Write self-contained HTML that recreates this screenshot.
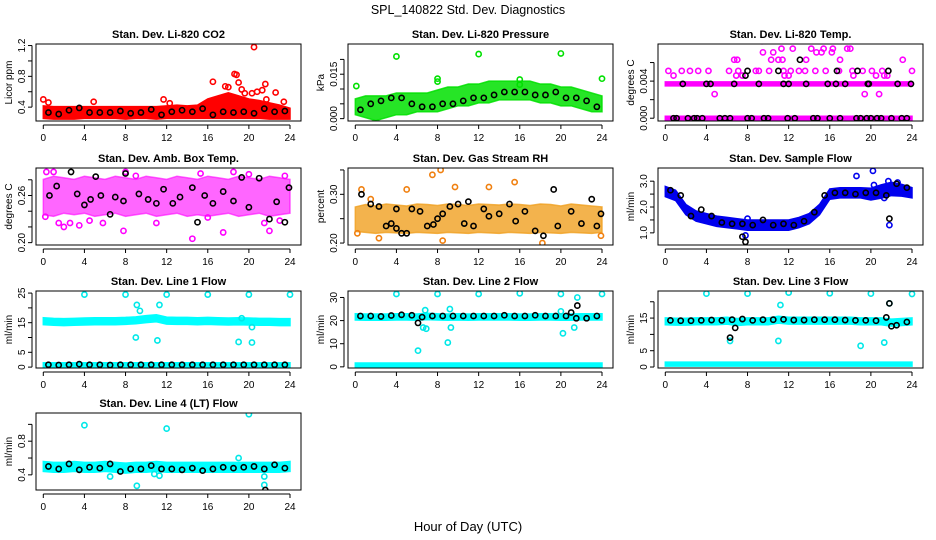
<!DOCTYPE html>
<html><head><meta charset="utf-8"><style>
html,body{margin:0;padding:0;background:#fff;}
svg{display:block;font-family:"Liberation Sans",sans-serif;}
</style></head><body>
<svg id="chart" width="936" height="540" viewBox="0 0 936 540">
<text x="468" y="14" text-anchor="middle" font-size="12.5">SPL_140822  Std. Dev. Diagnostics</text>
<text x="468" y="531" text-anchor="middle" font-size="13">Hour of Day (UTC)</text>
</svg>
<script>
// ---- data ----
const bandHours = [0,1,2,3,4,5,6,7,8,9,10,11,12,13,14,15,16,17,18,19,20,21,22,23,24];
const xTicks = [0,4,8,12,16,20,24];
const blackHours = [0.5,1.5,2.5,3.5,4.5,5.5,6.5,7.5,8.5,9.5,10.5,11.5,12.5,13.5,14.5,15.5,16.5,17.5,18.5,19.5,20.5,21.5,22.5,23.5];

// P1 CO2
const co2Lo = [0.28,0.27,0.27,0.27,0.28,0.28,0.28,0.28,0.27,0.28,0.28,0.27,0.28,0.28,0.28,0.28,0.28,0.28,0.28,0.28,0.28,0.28,0.27,0.27,0.27];
const co2Hi = [0.39,0.38,0.38,0.38,0.38,0.38,0.38,0.38,0.38,0.38,0.38,0.38,0.39,0.40,0.39,0.40,0.48,0.52,0.56,0.52,0.48,0.46,0.43,0.40,0.36];
const co2Black = [0.33,0.31,0.36,0.39,0.33,0.33,0.33,0.35,0.32,0.33,0.37,0.30,0.34,0.36,0.34,0.38,0.30,0.34,0.33,0.34,0.32,0.38,0.34,0.35];
const co2OutX = [0,0.5,4.9,11.7,12.3,16.5,17.7,18,18.6,18.8,19,19.3,19.6,20.3,20.5,20.8,21.3,21.6,21.7,22.6,23.4];
const co2OutY = [0.50,0.46,0.47,0.50,0.45,0.73,0.67,0.66,0.83,0.82,0.72,0.63,0.58,0.58,1.18,0.60,0.62,0.70,0.50,0.59,0.47];

// P2 Pressure
const presLo = [0.002,0.001,0.000,0.001,0.002,0.002,0.003,0.003,0.003,0.004,0.005,0.005,0.006,0.006,0.007,0.007,0.007,0.007,0.006,0.006,0.005,0.005,0.004,0.003,0.003];
const presHi = [0.006,0.007,0.007,0.007,0.008,0.008,0.008,0.008,0.009,0.010,0.010,0.011,0.011,0.012,0.012,0.012,0.012,0.012,0.011,0.011,0.010,0.010,0.009,0.008,0.007];
const presBlack = [0.003,0.005,0.006,0.007,0.007,0.005,0.004,0.004,0.005,0.005,0.006,0.007,0.007,0.008,0.009,0.009,0.009,0.008,0.008,0.009,0.007,0.007,0.006,0.004];
const presOutX = [0.1,4,8,8,12,16,16,20,24];
const presOutY = [0.011,0.021,0.0135,0.0125,0.0218,0.0132,0.0115,0.022,0.0135];

// P3 Li-820 Temp
const tempLo = [0,0,0,0,0,0,0,0,0,0,0,0,0,0,0,0,0,0,0,0,0,0,0,0,0];
const tempLo2 = [0.0037,0.0037,0.0037,0.0037,0.0037,0.0037,0.0037,0.0037,0.0037,0.0037,0.0037,0.0037,0.0037,0.0037,0.0037,0.0037,0.0037,0.0037,0.0037,0.0037,0.0037,0.0037,0.0037,0.0037,0.0037];
const tempOutX = [0.3,1.6,2.4,3.2,4.2,6.2,7.1,8.8,9.1,10.1,11.5,12.2,13,13.6,14.6,15.6,16.9,18.2,19.2,20.1,21.1,24.0,6.7,7,10.3,11,11.4,13.7,17,23.1,9.5,10.5,14.7,15.2,16.2,11.3,12.4,14.2,15.4,16.3,17.7,18,0.8,6.9,7.5,11.6,12,18.3,20.5,21.3,21.6,9.4,4.8,19.4,20.8];
const tempOutY = [0.0051,0.0051,0.0051,0.0051,0.0051,0.0051,0.0051,0.0051,0.0051,0.0051,0.0051,0.0051,0.0051,0.0051,0.0051,0.0051,0.0051,0.0051,0.0051,0.0051,0.0051,0.0051,0.0063,0.0063,0.0063,0.0063,0.0063,0.0063,0.0063,0.0063,0.0071,0.0071,0.0071,0.0071,0.0071,0.0075,0.0075,0.0075,0.0075,0.0075,0.0075,0.0075,0.0046,0.0046,0.0046,0.0046,0.0046,0.0046,0.0046,0.0046,0.0046,0.0083,0.0026,0.0026,0.0026];
const tempBlackX = [1.7,4,4.4,6.7,9.1,11.5,12,13.7,15.8,16.6,17.5,19.7,19.8,22.6,23.9,0.8,1.1,2.2,2.8,3.1,3.6,5.3,5.8,6.3,8,8.4,9.6,10,11.9,12.6,14.4,14.8,16,17,18.6,19,19.6,20,20.6,21,22,23,23.5,8,11,16.7,18.7,21.7,7.8,13.1];
const tempBlackY = [0.0037,0.0037,0.0037,0.0037,0.0037,0.0037,0.0037,0.0037,0.0037,0.0037,0.0037,0.0037,0.0037,0.0037,0.0037,0,0,0,0,0,0,0,0,0,0,0,0,0,0,0,0,0,0,0,0,0,0,0,0,0,0,0,0,0.0051,0.0051,0.0051,0.0051,0.0051,0.0046,0.0063];

// P4 Amb Box Temp
const ambLo = [0.238,0.236,0.240,0.238,0.240,0.236,0.238,0.240,0.236,0.238,0.240,0.236,0.238,0.240,0.236,0.238,0.236,0.238,0.240,0.236,0.238,0.240,0.236,0.238,0.240];
const ambHi = [0.278,0.282,0.280,0.278,0.282,0.280,0.278,0.282,0.280,0.278,0.282,0.280,0.278,0.282,0.280,0.278,0.282,0.280,0.278,0.282,0.280,0.278,0.282,0.280,0.278];
const ambOutX = [0.2,0.3,1,1.5,2,2.6,3.5,4.5,5.8,7.8,8,9,11,14.5,15.3,16,17.5,18.5,20,21.5,22,23,23.5];
const ambOutY = [0.233,0.29,0.29,0.225,0.22,0.225,0.222,0.228,0.225,0.215,0.29,0.285,0.225,0.205,0.288,0.232,0.213,0.29,0.287,0.225,0.215,0.228,0.285];
const ambBlackX = [0.6,1.3,2.7,3.3,4,4.6,5.1,5.6,6.5,7,7.8,8,9.3,10.2,11,11.7,12.6,13.3,14.5,15,15.7,16.5,17.5,18.5,19.3,20,21,22,22.7,23.5,23.9];
const ambBlackY = [0.26,0.272,0.29,0.262,0.248,0.255,0.284,0.26,0.236,0.258,0.253,0.288,0.262,0.255,0.25,0.268,0.25,0.258,0.27,0.226,0.26,0.25,0.265,0.253,0.283,0.245,0.282,0.23,0.252,0.226,0.27];

// P5 Gas Stream RH
const rhLo = [0.228,0.226,0.224,0.226,0.225,0.224,0.226,0.225,0.224,0.226,0.225,0.224,0.226,0.225,0.224,0.226,0.225,0.224,0.226,0.225,0.224,0.226,0.225,0.224,0.226];
const rhHi = [0.270,0.275,0.272,0.276,0.274,0.272,0.276,0.275,0.273,0.276,0.275,0.273,0.276,0.275,0.274,0.276,0.275,0.273,0.276,0.275,0.272,0.276,0.274,0.272,0.270];
const rhOutX = [0.6,1.5,5,7.5,8.3,9.7,13,15.5,18.2,2.3,8.5,0.2,23.9];
const rhOutY = [0.31,0.29,0.31,0.34,0.35,0.315,0.315,0.325,0.20,0.21,0.205,0.22,0.215];
const rhBlackX = [0.6,1.5,2.3,3,3.5,4,4,4.5,5,5.5,6.3,7,7.6,8,8.5,9.2,10,10.6,11,11.5,12.5,13,14,15,15.6,16.5,17.5,18.3,19.3,19.7,21,22,23,23.5,23.9];
const rhBlackY = [0.30,0.28,0.275,0.235,0.24,0.27,0.23,0.22,0.22,0.27,0.265,0.235,0.238,0.25,0.26,0.275,0.28,0.24,0.285,0.235,0.27,0.255,0.26,0.28,0.245,0.265,0.225,0.215,0.31,0.235,0.265,0.24,0.29,0.235,0.26];

// P6 Sample Flow
const flowMid = [2.6,2.45,1.9,1.65,1.55,1.45,1.4,1.35,1.3,1.3,1.3,1.3,1.3,1.4,1.55,1.9,2.5,2.55,2.55,2.55,2.5,2.6,2.7,2.65,2.55];
const flowSpread = [0.12,0.12,0.12,0.12,0.12,0.12,0.12,0.12,0.12,0.12,0.12,0.12,0.12,0.12,0.12,0.12,0.12,0.12,0.12,0.12,0.15,0.18,0.18,0.15,0.12];
const flowBlack = [2.65,2.45,1.65,1.9,1.65,1.4,1.35,1.35,1.3,1.5,1.3,1.35,1.3,1.45,1.8,2.45,2.55,2.55,2.5,2.55,2.55,2.45,2.9,2.75];
const flowOutX = [18.6,20.2,21.7,22.6,7.8,8,21.8,20.3,21.3];
const flowOutY = [3.2,3.4,3.0,2.95,0.9,1.55,1.3,2.85,2.35];
const flowBlackOutX = [7.5,7.8,21.8];
const flowBlackOutY = [0.85,0.65,1.55];

// P7 Line 1 Flow
const l1Mid = [15.5,15.3,15.2,15.3,15.4,15.5,15.5,15.5,15.6,15.8,16.2,16.5,15.7,15.6,15.6,15.5,15.6,15.5,15.4,15.5,15.4,15.3,15.3,15.2,15.2];
const l1Low = [0.8,0.8,0.8,0.8,0.8,0.8,0.8,0.8,0.8,0.8,0.8,0.8,0.8,0.8,0.8,0.8,0.8,0.8,0.8,0.8,0.8,0.8,0.8,0.8,0.8];
const l1Black = [0.8,0.7,0.8,1.0,0.8,0.8,0.7,0.8,0.8,0.8,0.8,0.8,0.8,0.8,0.8,0.8,0.8,0.8,0.8,0.8,0.8,0.8,0.8,0.8];
const l1OutX = [4,8,12,16,20,24,9.1,9.4,9,11.1,11.3,19,20.3,20.3,19.3];
const l1OutY = [24.5,24.5,24.5,24.5,24.5,24.5,21,19,10,9,21,8.5,8.3,13.5,16.5];

// P8 Line 2 Flow
const l2Mid = [21.6,21.5,21.5,21.5,21.6,21.6,21.5,21.8,21.6,21.5,21.6,21.5,21.6,21.6,21.6,21.6,21.5,21.5,21.6,21.6,21.5,21.5,21.6,21.6,21.6];
const l2Low = [0.8,0.8,0.8,0.8,0.8,0.8,0.8,0.8,0.8,0.8,0.8,0.8,0.8,0.8,0.8,0.8,0.8,0.8,0.8,0.8,0.8,0.8,0.8,0.8,0.8];
const l2Black = [22,22,21.8,22.2,22.5,22.3,21.5,22,22,22,22,22,22,22,22.3,22,22,22.3,22,22,22,21,21,22];
const l2OutX = [4,8,12,16,20,24,6.1,6.6,6.9,9,9.3,9.2,6.8,20.2,21.3,21.6,20];
const l2OutY = [31.5,31.5,31.5,31.8,31.5,31.5,7,17,16.5,10.5,17,25,24.5,14.5,17,30,24];
const l2BlackOutX = [6.1,21,21.6];
const l2BlackOutY = [19,23.5,26.5];

// P9 Line 3 Flow
const l3Mid = [14,13.9,13.9,14,14,14,14.2,13.8,14,14,14,14.5,14.2,14.2,14.2,14.2,14.2,14.2,14.2,14,14,14,13.6,13.8,14];
const l3Low = [0.9,0.9,0.9,0.9,0.9,0.9,0.9,0.9,0.9,0.9,0.9,0.9,0.9,0.9,0.9,0.9,0.9,0.9,0.9,0.9,0.9,0.9,0.9,0.9,0.9];
const l3Black = [14.3,14.2,14.2,14.3,14.4,14.3,14.5,14.7,14.3,14.5,14.5,14.6,14.4,14.4,14.5,14.5,14.5,14.4,14.3,14.3,14.2,15.2,12.8,13.8];
const l3OutX = [4,8,12,16,20,24,11.2,11,6.3,19,21.3,21.8];
const l3OutY = [22.5,22.5,22.8,22.6,22.5,22.4,19,8,8,6.5,7.5,19.5];
const l3BlackOutX = [6.3,6.8,22,21.8];
const l3BlackOutY = [9,12,12.5,19.5];

// P10 Line 4 (LT) Flow
const l4Mid = [0.50,0.49,0.49,0.50,0.49,0.49,0.50,0.49,0.48,0.49,0.49,0.50,0.49,0.49,0.49,0.49,0.49,0.49,0.49,0.49,0.49,0.49,0.49,0.49,0.50];
const l4Spread = [0.035,0.035,0.035,0.035,0.035,0.035,0.035,0.035,0.035,0.035,0.035,0.035,0.035,0.035,0.035,0.035,0.035,0.035,0.035,0.035,0.035,0.035,0.035,0.035,0.035];
const l4Black = [0.50,0.47,0.53,0.46,0.49,0.48,0.53,0.44,0.47,0.47,0.51,0.47,0.47,0.46,0.48,0.45,0.47,0.49,0.48,0.49,0.50,0.47,0.52,0.48];
const l4OutX = [4,12,20,9.1,6.5,21.5,21.5,19,11.3,10.8];
const l4OutY = [0.99,0.95,1.12,0.27,0.38,0.28,0.38,0.60,0.39,0.41];
const l4BlackOutX = [21.6];
const l4BlackOutY = [0.22];

// ---- drawing ----
const NS = 'http://www.w3.org/2000/svg';
const svg = document.getElementById('chart');
function mk(tag, attrs, parent){
  const e = document.createElementNS(NS, tag);
  for (const k in attrs) e.setAttribute(k, attrs[k]);
  (parent||svg).appendChild(e);
  return e;
}
const colX = [36, 348, 658];
const rowY = [44, 168, 291, 413];
const W = 265, H = 77;

function makePanel(col, row, ymin, ymax, ticks, labels, title, ylab, name){
  const L = colX[col], T = rowY[row];
  const g = mk('g', {});
  
  
  const x0 = L + 7.3, x24 = L + 254;
  const xs = h => x0 + (x24 - x0) * h / 24;
  const ys = v => T + H - (v - ymin) / (ymax - ymin) * H;
  const clip = mk('clipPath', {id: 'clip-' + name}, g);
  mk('rect', {x: L, y: T, width: W, height: H}, clip);
  const plot = mk('g', {'clip-path': 'url(#clip-' + name + ')'}, g);
  
  
  const t = mk('text', {x: L + W/2, y: T - 6, 'text-anchor': 'middle', 'font-size': 11, 'font-weight': 'bold'}, g);
  t.textContent = title;
  
  
  const yl = mk('text', {x: 0, y: 0, 'text-anchor': 'middle', 'font-size': 10, transform: 'translate(' + (L - 24) + ',' + (T + H/2) + ') rotate(-90)'}, g);
  yl.textContent = ylab;
  
  
  const box = mk('rect', {x: L, y: T, width: W, height: H, fill: 'none', stroke: '#000', 'stroke-width': 1}, g);
  
  
  const xa = mk('g', {}, g);
  
  
  mk('line', {x1: xs(0), x2: xs(24), y1: T + H + 4, y2: T + H + 4, stroke: '#000'}, xa);
  xTicks.forEach(h => {
    mk('line', {x1: xs(h), x2: xs(h), y1: T + H + 4, y2: T + H + 8, stroke: '#000'}, xa);
    const tl = mk('text', {x: xs(h), y: T + H + 20, 'text-anchor': 'middle', 'font-size': 10}, xa);
    tl.textContent = h;
    
    
  });
  const ya = mk('g', {}, g);
  
  
  mk('line', {x1: L - 4, x2: L - 4, y1: ys(ticks[0]), y2: ys(ticks[ticks.length-1]), stroke: '#000'}, ya);
  ticks.forEach((v, i) => {
    mk('line', {x1: L - 8, x2: L - 4, y1: ys(v), y2: ys(v), stroke: '#000'}, ya);
    if (labels[i] !== '') {
      const tl = mk('text', {x: 0, y: 0, 'text-anchor': 'middle', 'font-size': 10, transform: 'translate(' + (L - 11) + ',' + ys(v) + ') rotate(-90)'}, ya);
      tl.textContent = labels[i];
      
      
    }
  });
  return {plot, xs, ys, name};
}

function band(p, lo, hi, color, op){
  let d = '';
  bandHours.forEach((h, i) => { d += (i ? 'L' : 'M') + p.xs(h) + ',' + (p.ys(hi[i]) - 2); });
  for (let i = bandHours.length - 1; i >= 0; i--) d += 'L' + p.xs(bandHours[i]) + ',' + (p.ys(lo[i]) + 2);
  const e = mk('path', {d: d + 'Z', fill: color, 'fill-opacity': op || 1, stroke: color, 'stroke-opacity': op || 1, 'stroke-width': 1.5}, p.plot);
  
  
}
function bandMid(p, mid, spread, color){
  band(p, mid.map((m, i) => m - spread[i]), mid.map((m, i) => m + spread[i]), color);
}
function bandConst(p, mid, color){ band(p, mid, mid, color); }
function pts(p, xsArr, ysArr, color, label){
  xsArr.forEach((h, i) => {
    const c = mk('circle', {cx: p.xs(h), cy: p.ys(ysArr[i]), r: 2.6, fill: 'none', stroke: color, 'stroke-width': 1.6}, p.plot);
    
    
  });
}

let p;
p = makePanel(0, 0, 0.22, 1.22, [0.4,0.6,0.8,1.0,1.2], ['0.4','','0.8','','1.2'], 'Stan. Dev. Li-820 CO2', 'Licor ppm', 'co2');
band(p, co2Lo, co2Hi, '#ff0000'); pts(p, co2OutX, co2OutY, '#ff0000', 'co2-point'); pts(p, blackHours, co2Black, '#000', 'co2-mean-point');

p = makePanel(1, 0, -0.0008, 0.0252, [0,0.005,0.010,0.015,0.020], ['0.000','','','0.015',''], 'Stan. Dev. Li-820 Pressure', 'kPa', 'pressure');
band(p, presLo, presHi, '#00e000', 0.85); pts(p, presOutX, presOutY, '#00e000', 'pressure-point'); pts(p, blackHours, presBlack, '#000', 'pressure-mean-point');

p = makePanel(2, 0, -0.0003, 0.0080, [0,0.002,0.004,0.006], ['0.000','','0.004',''], 'Stan. Dev. Li-820 Temp.', 'degrees C', 'li820-temp');
bandConst(p, tempLo, '#ff00ff'); bandConst(p, tempLo2, '#ff00ff');
pts(p, tempOutX, tempOutY, '#ff00ff', 'li820-temp-point'); pts(p, tempBlackX, tempBlackY, '#000', 'li820-temp-mean-point');

p = makePanel(0, 1, 0.197, 0.295, [0.20,0.22,0.24,0.26,0.28], ['0.20','','','0.26',''], 'Stan. Dev. Amb. Box Temp.', 'degrees C', 'amb-temp');
band(p, ambLo, ambHi, '#ff00ff', 0.6); pts(p, ambOutX, ambOutY, '#ff00ff', 'amb-temp-point'); pts(p, ambBlackX, ambBlackY, '#000', 'amb-temp-mean-point');

p = makePanel(1, 1, 0.196, 0.354, [0.20,0.25,0.30,0.35], ['0.20','','0.30',''], 'Stan. Dev. Gas Stream RH', 'percent', 'rh');
band(p, rhLo, rhHi, '#f0a020', 0.8); pts(p, rhOutX, rhOutY, '#f08010', 'rh-point'); pts(p, rhBlackX, rhBlackY, '#000', 'rh-mean-point');

p = makePanel(2, 1, 0.53, 3.51, [1.0,1.5,2.0,2.5,3.0], ['1.0','','2.0','','3.0'], 'Stan. Dev. Sample Flow', 'ml/min', 'sample-flow');
bandMid(p, flowMid, flowSpread, '#0000ee'); pts(p, flowOutX, flowOutY, '#0000ee', 'sample-flow-point');
pts(p, blackHours, flowBlack, '#000', 'sample-flow-mean-point'); pts(p, flowBlackOutX, flowBlackOutY, '#000', 'sample-flow-mean-point');

p = makePanel(0, 2, -0.3, 25.7, [0,5,10,15,20,25], ['0','5','','15','','25'], 'Stan. Dev. Line 1 Flow', 'ml/min', 'line1');
bandMid(p, l1Mid, l1Low.map(() => 0.5), '#00ffff'); bandConst(p, l1Low, '#00ffff');
pts(p, l1OutX, l1OutY, '#00e8e8', 'line1-point'); pts(p, blackHours, l1Black, '#000', 'line1-mean-point');

p = makePanel(1, 2, -0.5, 32.8, [0,10,20,30], ['0','10','20','30'], 'Stan. Dev. Line 2 Flow', 'ml/min', 'line2');
bandMid(p, l2Mid, l2Low.map(() => 0.5), '#00ffff'); bandConst(p, l2Low, '#00ffff');
pts(p, l2OutX, l2OutY, '#00e8e8', 'line2-point'); pts(p, blackHours, l2Black, '#000', 'line2-mean-point'); pts(p, l2BlackOutX, l2BlackOutY, '#000', 'line2-mean-point');

p = makePanel(2, 2, -0.3, 23.3, [0,5,10,15,20], ['0','5','','15',''], 'Stan. Dev. Line 3 Flow', 'ml/min', 'line3');
bandMid(p, l3Mid, l3Low.map(() => 0.45), '#00ffff'); bandConst(p, l3Low, '#00ffff');
pts(p, l3OutX, l3OutY, '#00e8e8', 'line3-point'); pts(p, blackHours, l3Black, '#000', 'line3-mean-point'); pts(p, l3BlackOutX, l3BlackOutY, '#000', 'line3-mean-point');

p = makePanel(0, 3, 0.22, 1.135, [0.4,0.6,0.8,1.0], ['0.4','','0.8',''], 'Stan. Dev. Line 4 (LT) Flow', 'ml/min', 'line4');
bandMid(p, l4Mid, l4Spread, '#00ffff'); pts(p, l4OutX, l4OutY, '#00e8e8', 'line4-point');
pts(p, blackHours, l4Black, '#000', 'line4-mean-point'); pts(p, l4BlackOutX, l4BlackOutY, '#000', 'line4-mean-point');
</script>
</body></html>
